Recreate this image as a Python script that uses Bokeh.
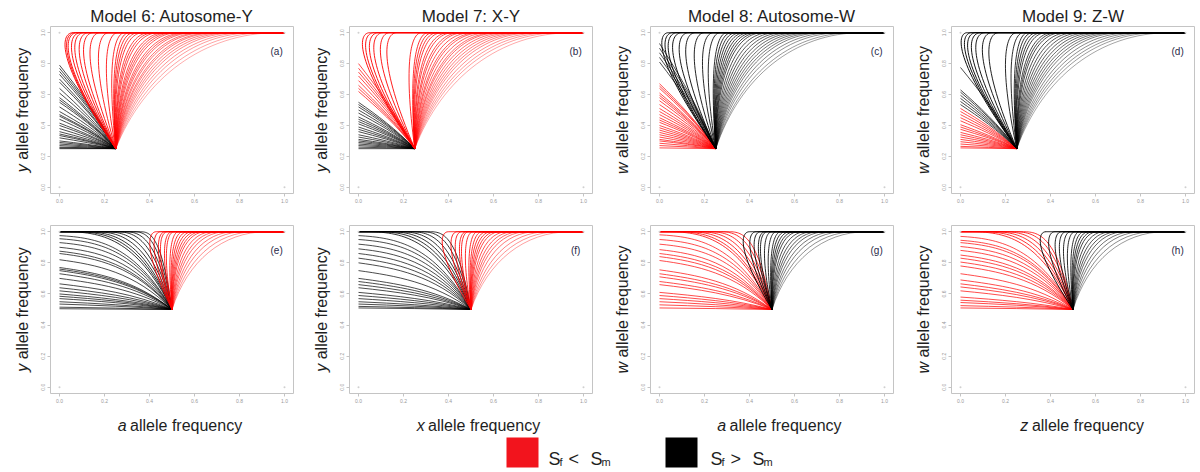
import numpy as np
from math import pi
from bokeh.plotting import figure
from bokeh.models import Range1d, FixedTicker, PrintfTickFormatter, Label, ColumnDataSource
from bokeh.layouts import row, column
from bokeh.embed import file_html
from bokeh.resources import INLINE
from bokeh.core.properties import value

# ---------------- data ----------------
titles = ["Model 6: Autosome-Y", "Model 7: X-Y", "Model 8: Autosome-W", "Model 9: Z-W"]
tags_top = ["(a)", "(b)", "(c)", "(d)"]
tags_bot = ["(e)", "(f)", "(g)", "(h)"]
y_vars = ["y", "y", "w", "w"]
x_vars = ["a", "x", "a", "z"]
ticks = [0.0, 0.2, 0.4, 0.6, 0.8, 1.0]
corner_x = [0.0, 1.0, 0.0, 1.0]
corner_y = [0.0, 0.0, 1.0, 1.0]
start_top = (0.25, 0.25)     # common starting point of trajectories, top row
start_bot = (0.50, 0.50)     # common starting point, bottom row

# y at x = 0 where a trajectory leaves through the left edge
a_fan_black = [0.79, 0.77, 0.75, 0.73, 0.70, 0.68, 0.64, 0.61, 0.58, 0.565, 0.55, 0.52, 0.49, 0.47,
               0.46, 0.44, 0.415, 0.40, 0.38, 0.36, 0.345, 0.335, 0.32, 0.30, 0.29, 0.28, 0.27, 0.26, 0.255, 0.25]
b_fan_black = [0.55, 0.535, 0.52, 0.50, 0.48, 0.455, 0.44, 0.425, 0.41, 0.39, 0.375, 0.36, 0.34, 0.325,
               0.31, 0.30, 0.29, 0.28, 0.27, 0.26, 0.25]
b_fan_red = [0.80, 0.77, 0.745, 0.72, 0.69, 0.66, 0.64, 0.62]
c_fan_red = [0.67, 0.655, 0.64, 0.61, 0.595, 0.58, 0.56, 0.535, 0.51, 0.49, 0.47, 0.45, 0.435, 0.42, 0.40,
             0.385, 0.37, 0.355, 0.34, 0.325, 0.31, 0.30, 0.285, 0.27, 0.255]
c_fan_black = [0.93, 0.90, 0.87, 0.84, 0.81]
d_fan_red = [0.51, 0.49, 0.47, 0.45, 0.43, 0.405, 0.39, 0.375, 0.355, 0.34, 0.325, 0.31, 0.295, 0.28, 0.265, 0.255]
d_fan_black = [0.775, 0.63, 0.615, 0.595, 0.575, 0.555, 0.535]
e_fan_black = [0.975, 0.955, 0.93, 0.90, 0.875, 0.86, 0.82, 0.77, 0.76, 0.75, 0.73, 0.70, 0.665, 0.64,
               0.62, 0.60, 0.585, 0.57, 0.55, 0.535, 0.515, 0.505]
f_fan_black = [0.975, 0.95, 0.92, 0.89, 0.86, 0.83, 0.80, 0.75, 0.70, 0.68, 0.66, 0.64, 0.61, 0.59,
               0.57, 0.55, 0.535, 0.52, 0.51]
g_fan_red = [0.98, 0.95, 0.92, 0.885, 0.86, 0.84, 0.815, 0.755, 0.73, 0.71, 0.68, 0.66, 0.61, 0.59,
             0.57, 0.55, 0.53, 0.51]
h_fan_red = [0.97, 0.945, 0.93, 0.905, 0.88, 0.85, 0.83, 0.805, 0.78, 0.73, 0.69, 0.665, 0.645, 0.62,
             0.58, 0.56, 0.545, 0.525, 0.51]

# x where a left-going trajectory reaches the top (y = 1) and then runs to x = 0
e_hug_black = [0.02, 0.06, 0.10, 0.15, 0.20, 0.25, 0.29, 0.33, 0.36]
f_hug_black = [0.03, 0.08, 0.13, 0.18, 0.23, 0.28, 0.32]
g_hug_red = [0.03, 0.07, 0.12, 0.17, 0.22, 0.27, 0.31]
h_hug_red = [0.04, 0.09, 0.14, 0.19, 0.24, 0.28]

# x where a rising trajectory joins the top (y = 1) and then runs to x = 1
a_rise_red = [0.06, 0.07, 0.08, 0.095, 0.11, 0.13, 0.15, 0.18, 0.22, 0.26, 0.29, 0.31, 0.33, 0.35, 0.37,
              0.40, 0.42, 0.44, 0.47, 0.49, 0.51, 0.53, 0.56, 0.58, 0.60, 0.63, 0.65, 0.68, 0.70, 0.73,
              0.76, 0.79, 0.83, 0.87, 0.92, 0.97]
b_rise_red = [0.05, 0.07, 0.09, 0.11, 0.14, 0.17, 0.28, 0.31, 0.33, 0.35, 0.37, 0.40, 0.42, 0.45, 0.47,
              0.50, 0.53, 0.55, 0.58, 0.61, 0.63, 0.66, 0.69, 0.72, 0.75, 0.78, 0.82, 0.86, 0.90, 0.95]
c_rise_black = [0.04, 0.06, 0.08, 0.10, 0.13, 0.16, 0.20, 0.24, 0.27, 0.30, 0.32, 0.34, 0.36, 0.38, 0.40,
                0.42, 0.44, 0.46, 0.49, 0.52, 0.55, 0.58, 0.61, 0.64, 0.67, 0.70, 0.73, 0.77, 0.81, 0.86, 0.90]
d_rise_black = [0.03, 0.05, 0.07, 0.09, 0.11, 0.14, 0.17, 0.25, 0.28, 0.30, 0.32, 0.34, 0.36, 0.38, 0.41,
                0.43, 0.45, 0.48, 0.51, 0.54, 0.57, 0.60, 0.63, 0.66, 0.69, 0.72, 0.76, 0.80, 0.84, 0.88, 0.93]
e_rise_red = [0.43, 0.45, 0.47, 0.48, 0.50, 0.51, 0.53, 0.55, 0.57, 0.59, 0.61, 0.63, 0.65, 0.68, 0.71,
              0.74, 0.78, 0.82, 0.87, 0.92]
f_rise_red = [0.40, 0.44, 0.46, 0.48, 0.49, 0.51, 0.53, 0.55, 0.57, 0.59, 0.61, 0.63, 0.66, 0.69, 0.72,
              0.75, 0.79, 0.84, 0.89, 0.94]
g_rise_black = [0.40, 0.43, 0.45, 0.47, 0.48, 0.50, 0.52, 0.54, 0.56, 0.58, 0.60, 0.62, 0.65, 0.68, 0.71,
                0.74, 0.78, 0.82, 0.87, 0.92]
h_rise_black = [0.38, 0.42, 0.45, 0.47, 0.49, 0.51, 0.53, 0.55, 0.57, 0.59, 0.61, 0.64, 0.67, 0.70, 0.73,
                0.77, 0.81, 0.86, 0.91]

legend_parts = [("S", "f", "<", "S", "m"), ("S", "f", ">", "S", "m")]
legend_colors = ["#f2141d", "#000000"]

# ---------------- style / layout ----------------
RED = "#ff0000"
BLACK = "#000000"
FONT = "Liberation Sans"
TXT = "#1e1e1e"
BOX = "#c4c4c4"
FRAME_W = 243
STRIP_W = 36                      # strip on the left of each column that holds the y labels
COL_W = [299, 301, 301, 295]
BORDER_L = 14
XLAB_H = 26
LEG_H = 32
PANEL_H = [210, 200]
BORDER_T = [26, 15]
BORDER_B = [17, 17]
LABEL_SIZE = 16

panels_top = [
    dict(fans=[(a_fan_black, BLACK)], hugs=[], rises=[(a_rise_red, RED)]),
    dict(fans=[(b_fan_black, BLACK), (b_fan_red, RED)], hugs=[], rises=[(b_rise_red, RED)]),
    dict(fans=[(c_fan_red, RED), (c_fan_black, BLACK)], hugs=[], rises=[(c_rise_black, BLACK)]),
    dict(fans=[(d_fan_red, RED), (d_fan_black, BLACK)], hugs=[], rises=[(d_rise_black, BLACK)]),
]
panels_bot = [
    dict(fans=[(e_fan_black, BLACK)], hugs=[(e_hug_black, BLACK)], rises=[(e_rise_red, RED)]),
    dict(fans=[(f_fan_black, BLACK)], hugs=[(f_hug_black, BLACK)], rises=[(f_rise_red, RED)]),
    dict(fans=[(g_fan_red, RED)], hugs=[(g_hug_red, RED)], rises=[(g_rise_black, BLACK)]),
    dict(fans=[(h_fan_red, RED)], hugs=[(h_hug_red, RED)], rises=[(h_rise_black, BLACK)]),
]

ITALIC_W = {"y": 500, "w": 722, "a": 556, "x": 500, "z": 500}
REG_W = {"a": 556, "l": 222, "e": 556, " ": 278, "f": 278, "r": 333, "q": 556, "u": 556,
         "n": 556, "c": 500, "y": 500}


def text_width(s, size):
    return sum(REG_W.get(ch, 556) for ch in s) * size / 1000.0


def fan_source(ends, xs, ys, row_bend, hug=False):
    rows = dict(x0=[], y0=[], x1=[], y1=[], cx0=[], cy0=[], cx1=[], cy1=[])
    for v in ends:
        if not hug:
            xe, ye = 0.0, v
            frac = (ye - ys) / (1 - ys)
            beta = 0.15 if not row_bend else 0.25 + 0.7 * frac
        else:
            xe, ye = v, 1.0
            beta = 1.0
        d = xs - xe
        dy = ye - ys
        rows["x0"].append(xs); rows["y0"].append(ys)
        rows["x1"].append(xe); rows["y1"].append(ye)
        rows["cx0"].append(xs - d / 3); rows["cy0"].append(ys + dy * (1 / 3 + 0.6 * beta))
        rows["cx1"].append(xe + d / 3); rows["cy1"].append(ye - dy * (1 - beta) / 3)
    return ColumnDataSource(rows)


def rise_source(x_tops, xs, ys):
    W, H = 1 - xs, 1 - ys
    rows = dict(x0=[], y0=[], x1=[], y1=[], cx0=[], cy0=[], cx1=[], cy1=[], alpha=[])
    for xt in x_tops:
        u = (xt - xs) / W
        L = xs + np.interp(u, [-0.5, -0.227, 0.067, 1.0], [-0.5, -0.36, -0.04, 0.173]) * W
        c1 = np.interp(u, [-0.227, 1.0], [0.8, 0.6])
        rows["x0"].append(xs); rows["y0"].append(ys)
        rows["x1"].append(xt); rows["y1"].append(1.0)
        rows["cx0"].append(L); rows["cy0"].append(ys + c1 * H)
        rows["cx1"].append(L + 0.45 * (xt - L)); rows["cy1"].append(1.0)
        rows["alpha"].append(float(np.interp(u, [-0.3, 0.1, 1.0], [0.95, 0.8, 0.3])))
    return ColumnDataSource(rows)


def strip(width, height):
    f = figure(width=width, height=height, x_range=Range1d(0, width), y_range=Range1d(0, height),
               output_backend="svg", toolbar_location=None, min_border=0,
               x_axis_location=None, y_axis_location=None)
    f.grid.visible = False
    f.outline_line_color = None
    f.background_fill_color = "white"
    f.border_fill_color = "white"
    return f


def make_panel(ci, ri, spec, tag, title=None):
    xs, ys = start_top if ri == 0 else start_bot
    w = COL_W[ci] - STRIP_W
    p = figure(width=w, height=PANEL_H[ri], output_backend="svg", toolbar_location=None,
               x_range=Range1d(-0.04, 1.04), y_range=Range1d(-0.04, 1.04),
               min_border_left=BORDER_L, min_border_right=w - BORDER_L - FRAME_W,
               min_border_top=BORDER_T[ri], min_border_bottom=BORDER_B[ri])
    if title:
        p.title.text = title
        p.title.text_font = FONT
        p.title.text_font_size = "17px"
        p.title.text_font_style = "normal"
        p.title.text_color = TXT
        p.title.align = "center"
        p.title.standoff = 1
    p.grid.visible = False
    p.outline_line_color = BOX
    p.outline_line_width = 1
    p.background_fill_color = "white"
    p.border_fill_color = "white"
    for ax in (p.xaxis[0], p.yaxis[0]):
        ax.ticker = FixedTicker(ticks=ticks)
        ax.formatter = PrintfTickFormatter(format="%.1f")
        ax.axis_line_color = None
        ax.major_tick_line_color = BOX
        ax.major_tick_out = 3
        ax.major_tick_in = 0
        ax.minor_tick_line_color = None
        ax.major_label_text_font_size = "5px"
        ax.major_label_text_color = "#9a9a9a"
        ax.major_label_text_font = FONT
        ax.major_label_standoff = 2
    p.yaxis[0].major_label_orientation = "vertical"

    for arr, col in spec["fans"]:
        src = fan_source(arr, xs, ys, ri == 1)
        p.bezier("x0", "y0", "x1", "y1", "cx0", "cy0", "cx1", "cy1", source=src,
                 line_color=col, line_alpha=0.7, line_width=1)
    for arr, col in spec["hugs"]:
        src = fan_source(arr, xs, ys, True, hug=True)
        p.bezier("x0", "y0", "x1", "y1", "cx0", "cy0", "cx1", "cy1", source=src,
                 line_color=col, line_alpha=0.8, line_width=1)
        p.segment(x0="x1", y0="y1", x1=0.0, y1=1.0, source=src, line_color=col, line_alpha=0.8, line_width=1)
    for arr, col in spec["rises"]:
        src = rise_source(arr, xs, ys)
        p.bezier("x0", "y0", "x1", "y1", "cx0", "cy0", "cx1", "cy1", source=src,
                 line_color=col, line_alpha="alpha", line_width=1)
        p.segment(x0="x1", y0="y1", x1=1.0, y1=1.0, source=src, line_color=col, line_alpha=0.8, line_width=1)
    p.scatter(corner_x, corner_y, size=2, color="#d0d0d0", line_color=None)
    p.add_layout(Label(x=0.965, y=0.88, text=tag, text_font=FONT, text_font_size="10px",
                       text_color="#2a2a48", text_align="center", text_baseline="middle"))
    return p


columns = []
col_h = PANEL_H[0] + PANEL_H[1] + XLAB_H
rest = text_width("allele frequency", LABEL_SIZE)
frame_h = [PANEL_H[r] - BORDER_T[r] - BORDER_B[r] for r in range(2)]
for ci in range(4):
    w = COL_W[ci] - STRIP_W
    cx = BORDER_L + FRAME_W / 2.0          # frame centre inside the panel part

    top = make_panel(ci, 0, panels_top[ci], tags_top[ci], titles[ci])
    bot = make_panel(ci, 1, panels_bot[ci], tags_bot[ci])

    # x label strip (bottom row only)
    xl = strip(w, XLAB_H)
    pre = (ITALIC_W[x_vars[ci]] + 278) * LABEL_SIZE / 1000.0
    x0 = cx - (pre + rest) / 2
    xl.text(x=[x0], y=[11], text=[x_vars[ci]], text_font=value(FONT), text_font_size="%dpx" % LABEL_SIZE,
            text_font_style="italic", text_color=TXT, text_align="left", text_baseline="alphabetic")
    xl.text(x=[x0 + pre], y=[11], text=["allele frequency"], text_font=value(FONT),
            text_font_size="%dpx" % LABEL_SIZE, text_color=TXT, text_align="left", text_baseline="alphabetic")

    # y label strip (both rows)
    yl = strip(STRIP_W, col_h)
    pre = (ITALIC_W[y_vars[ci]] + 278) * LABEL_SIZE / 1000.0
    bx = STRIP_W + BORDER_L - 28
    centres = [col_h - (BORDER_T[0] + frame_h[0] / 2.0),
               col_h - (PANEL_H[0] + BORDER_T[1] + frame_h[1] / 2.0)]
    starts = [c - (pre + rest) / 2 for c in centres]
    yl.text(x=[bx, bx], y=starts, text=[y_vars[ci]] * 2, angle=pi / 2, text_font=value(FONT),
            text_font_size="%dpx" % LABEL_SIZE, text_font_style="italic", text_color=TXT,
            text_align="left", text_baseline="alphabetic")
    yl.text(x=[bx, bx], y=[s + pre for s in starts], text=["allele frequency"] * 2, angle=pi / 2,
            text_font=value(FONT), text_font_size="%dpx" % LABEL_SIZE, text_color=TXT,
            text_align="left", text_baseline="alphabetic")

    columns.append(row(yl, column(top, bot, xl)))

# legend strip
leg = strip(sum(COL_W), LEG_H)
leg.quad(left=[506, 665], right=[538, 697], bottom=[1, 1], top=[31, 31],
         fill_color=legend_colors, line_color=None)
for (s1, sub1, op, s2, sub2), x in zip(legend_parts, [548, 710]):
    leg.text(x=[x, x + 20, x + 42], y=[10, 10, 10], text=[s1, op, s2], text_font=value(FONT),
             text_font_size="18px", text_color=TXT, text_baseline="alphabetic")
    leg.text(x=[x + 11, x + 53], y=[7, 7], text=[sub1, sub2], text_font=value(FONT),
             text_font_size="11px", text_color=TXT, text_baseline="alphabetic")

layout = column(row(*columns), leg)
open("out.html", "w").write(file_html(layout, INLINE))
